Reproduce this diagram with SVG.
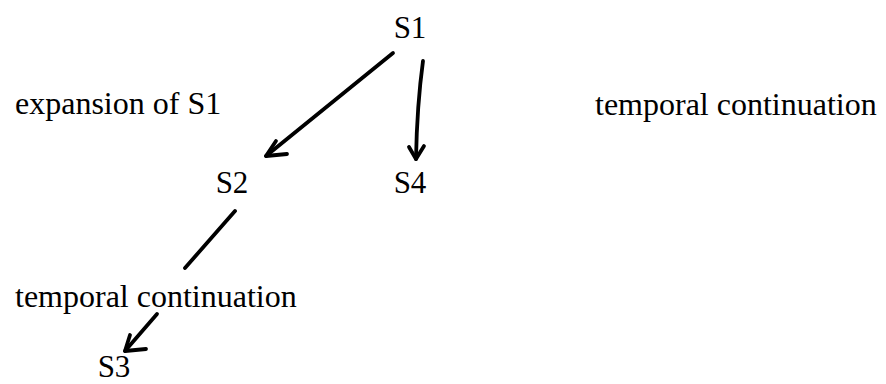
<svg xmlns="http://www.w3.org/2000/svg" width="886" height="384" viewBox="0 0 886 384">
<style>
text{font-family:"Liberation Serif","Times New Roman",serif;fill:#000}
.node{font-size:31px;text-anchor:middle}
.lbl{font-size:32px}
.ln{fill:none;stroke:#000;stroke-width:3.8;stroke-linecap:round;stroke-linejoin:round}
</style>
<rect width="886" height="384" fill="#fff"/>
<g id="connectors">
<path class="ln" d="M393,53 L266,156"/>
<polyline class="ln" points="276,141 266,156 287,154"/>
<path class="ln" d="M423,61 Q417,105 416,159"/>
<polyline class="ln" points="409,147 416,159 424,146"/>
<path class="ln" d="M235,211 L185,268"/>
<path class="ln" d="M157,314 L125,351"/>
<polyline class="ln" points="130,335 125,351 146,349"/>
</g>
<g id="S1"><text class="node" x="410" y="38">S1</text></g>
<g id="S2"><text class="node" x="232" y="193">S2</text></g>
<g id="S4"><text class="node" x="410" y="193">S4</text></g>
<g id="S3"><text class="node" x="114" y="377">S3</text></g>
<g id="label-expansion"><text class="lbl" x="15" y="114">expansion of S1</text></g>
<g id="label-temporal-right"><text class="lbl" x="595" y="115">temporal continuation</text></g>
<g id="label-temporal-lower"><text class="lbl" x="15" y="307">temporal continuation</text></g>
</svg>
